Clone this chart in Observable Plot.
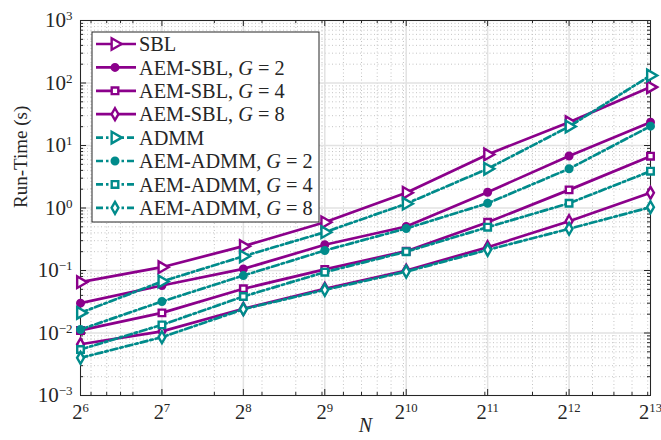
<!DOCTYPE html>
<html><head><meta charset="utf-8">
<script src="https://cdn.jsdelivr.net/npm/d3@7"></script>
<script src="https://cdn.jsdelivr.net/npm/@observablehq/plot@0.6"></script>
<style>
body{margin:0;background:#fff;}
#chart{width:661px;height:440px;}
</style>
</head><body><div id="chart"></div>
<script>
// ---- data ----
const N = [64, 128, 256, 512, 1024, 2048, 4096, 8192];
const sbl      = [0.065, 0.113, 0.245, 0.59, 1.75, 7.2, 23.6, 86];
const aemSbl2  = [0.030, 0.0575, 0.106, 0.258, 0.506, 1.79, 6.8, 23.6];
const aemSbl4  = [0.011, 0.021, 0.051, 0.104, 0.204, 0.59, 1.95, 6.75];
const aemSbl8  = [0.0066, 0.0106, 0.0244, 0.051, 0.100, 0.236, 0.615, 1.75];
const admm     = [0.021, 0.0667, 0.169, 0.41, 1.17, 4.24, 20.1, 132];
const aemAdmm2 = [0.0114, 0.0319, 0.083, 0.209, 0.47, 1.19, 4.24, 20.4];
const aemAdmm4 = [0.00545, 0.0135, 0.0384, 0.094, 0.200, 0.493, 1.19, 3.88];
const aemAdmm8 = [0.0040, 0.00857, 0.0240, 0.049, 0.096, 0.214, 0.465, 1.03];
const seriesNames = ["SBL", "AEM-SBL, G = 2", "AEM-SBL, G = 4", "AEM-SBL, G = 8",
                     "ADMM", "AEM-ADMM, G = 2", "AEM-ADMM, G = 4", "AEM-ADMM, G = 8"];
const seriesValues = [sbl, aemSbl2, aemSbl4, aemSbl8, admm, aemAdmm2, aemAdmm4, aemAdmm8];
const xTickExponents = [6, 7, 8, 9, 10, 11, 12, 13];
const yTickExponents = [-3, -2, -1, 0, 1, 2, 3];

// ---- styles ----
const PURPLE = "#8b008b", TEAL = "#008b8b", AX = "#262626";
const FONT = "'Liberation Serif', serif";
const rightTriangle = {
  draw(ctx, size) {
    const y = -Math.sqrt(size / (Math.sqrt(3) * 3));
    ctx.moveTo(-2 * y, 0);
    ctx.lineTo(y, -Math.sqrt(3) * y);
    ctx.lineTo(y, Math.sqrt(3) * y);
    ctx.closePath();
  }
};
const markerStyle = [
  {symbol: rightTriangle, r: 4.3, filled: false},
  {symbol: "circle", r: 3.3, filled: true},
  {symbol: "square", r: 3.7, filled: false},
  {symbol: "diamond", r: 3.6, filled: false}
];
const styleOf = i => ({
  color: i < 4 ? PURPLE : TEAL,
  dash: i < 4 ? null : "7,3,2.5,3",
  ...markerStyle[i % 4]
});

const rows = seriesNames.flatMap((name, i) => seriesValues[i].map((t, j) => ({series: name, idx: i, N: N[j], t})));

const xMajor = xTickExponents.map(e => 2 ** e);
const yMajor = yTickExponents.map(e => 10 ** e);
const xMinor = [];
for (let k = 1; k <= 3; k++) for (let d = 1; d <= 9; d++) { const v = d * 10 ** k; if (v > 64 && v < 8192) xMinor.push(v); }
const yMinor = [];
for (let k = -3; k < 3; k++) for (let d = 2; d <= 9; d++) yMinor.push(d * 10 ** k);

const W = 661, H = 440, mT = 20, mR = 11, mB = 45, mL = 80;
const pW = W - mL - mR, pH = H - mT - mB;

const marks = [
  Plot.gridX(xMinor, {stroke: "#c4c4c4", strokeOpacity: 1, strokeWidth: 1, strokeDasharray: "1,2.5"}),
  Plot.gridY(yMinor, {stroke: "#c4c4c4", strokeOpacity: 1, strokeWidth: 1, strokeDasharray: "1,2.5"}),
  Plot.gridX(xMajor, {stroke: "#e2e2e2", strokeOpacity: 1, strokeWidth: 1.5}),
  Plot.gridY(yMajor, {stroke: "#e2e2e2", strokeOpacity: 1, strokeWidth: 1.5}),
  // inward ticks (bottom/top, left/right)
  Plot.ruleX(xMajor, {stroke: AX, insetTop: pH - 6}),
  Plot.ruleX(xMajor, {stroke: AX, insetBottom: pH - 6}),
  Plot.ruleX(xMinor, {stroke: AX, insetTop: pH - 3}),
  Plot.ruleX(xMinor, {stroke: AX, insetBottom: pH - 3}),
  Plot.ruleY(yMajor, {stroke: AX, insetRight: pW - 6}),
  Plot.ruleY(yMajor, {stroke: AX, insetLeft: pW - 6}),
  Plot.ruleY(yMinor, {stroke: AX, insetRight: pW - 3}),
  Plot.ruleY(yMinor, {stroke: AX, insetLeft: pW - 3}),
  Plot.frame({stroke: AX, strokeWidth: 1}),
  Plot.axisX(xMajor, {tickSize: 0, tickPadding: 9, label: null, fontSize: 20.5, tickFormat: d => "2^" + Math.round(Math.log2(d))}),
  Plot.axisY(yMajor, {tickSize: 0, tickPadding: 8, label: null, fontSize: 21, tickFormat: d => "10^" + Math.round(Math.log10(d))}),
  Plot.text(["N"], {text: d => d, frameAnchor: "bottom", dy: 36, fontStyle: "italic", fontSize: 20, fill: AX}),
  Plot.text(["Run-Time (s)"], {text: d => d, frameAnchor: "left", dx: -60, rotate: -90, fontSize: 19, fill: AX})
];
seriesNames.forEach((name, i) => {
  const s = styleOf(i);
  const data = rows.filter(r => r.idx === i);
  marks.push(Plot.line(data, {x: "N", y: "t", stroke: s.color, strokeWidth: 2.7, strokeDasharray: s.dash}));
  marks.push(Plot.dot(data, {x: "N", y: "t", symbol: s.symbol, r: s.r, stroke: s.color, strokeWidth: 2.4, fill: s.filled ? s.color : "white"}));
});

const svg = Plot.plot({
  width: W, height: H,
  marginTop: mT, marginRight: mR, marginBottom: mB, marginLeft: mL,
  style: {fontFamily: FONT, background: "white", color: AX},
  x: {type: "log", base: 2, domain: [64, 8192]},
  y: {type: "log", domain: [1e-3, 1e3]},
  marks
});
document.getElementById("chart").appendChild(svg);

// superscripts in tick labels
const root = d3.select(svg);
root.selectAll('g[aria-label="x-axis tick label"] text, g[aria-label="y-axis tick label"] text').each(function () {
  const t = this.textContent;
  if (!t.includes("^")) return;
  const [b, e] = t.split("^");
  const sel = d3.select(this);
  sel.text(null);
  sel.append("tspan").text(b);
  sel.append("tspan").attr("dy", "-0.55em").attr("font-size", "0.62em").text(e.replace("-", "\u2212"));
});

// legend
const lg = root.append("g").attr("font-family", FONT).attr("font-size", 20.3).attr("fill", AX).attr("text-anchor", "start");
const lx = 92, ly = 32, lw = 227, lh = 190, rowH = 23.4;
lg.append("rect").attr("x", lx).attr("y", ly).attr("width", lw).attr("height", lh).attr("fill", "white").attr("stroke", AX).attr("stroke-width", 1);
seriesNames.forEach((name, i) => {
  const s = styleOf(i);
  const cy = ly + 12 + i * rowH;
  lg.append("line").attr("x1", lx + 4).attr("x2", lx + 44).attr("y1", cy).attr("y2", cy)
    .attr("stroke", s.color).attr("stroke-width", 2.7).attr("stroke-dasharray", s.dash);
  const sym = typeof s.symbol === "string" ? {circle: d3.symbolCircle, square: d3.symbolSquare, diamond: d3.symbolDiamond}[s.symbol] : s.symbol;
  lg.append("path").attr("d", d3.symbol(sym, Math.PI * s.r * s.r)()).attr("transform", `translate(${lx + 23},${cy})`)
    .attr("stroke", s.color).attr("stroke-width", 2.4).attr("fill", s.filled ? s.color : "white");
  const tx = lg.append("text").attr("x", lx + 47).attr("y", cy).attr("dy", "0.35em").attr("text-anchor", "start");
  const m = name.match(/^(.*), G = (\d)$/);
  if (m) {
    tx.append("tspan").text(m[1] + ", ");
    tx.append("tspan").attr("font-style", "italic").text("G");
    tx.append("tspan").text(" = " + m[2]);
  } else tx.text(name);
});
</script>
</body></html>
